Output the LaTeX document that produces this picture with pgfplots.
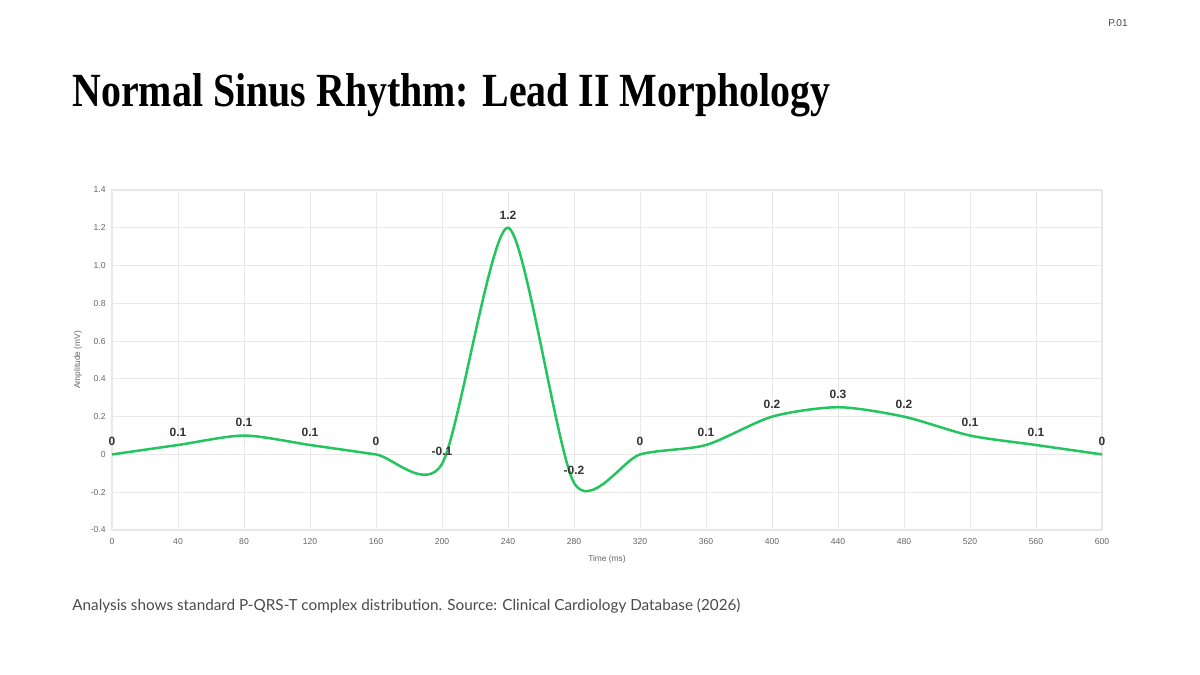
\documentclass[border=0pt]{standalone}
\usepackage{pgfplots}
\pgfplotsset{compat=1.18}
\usepackage{fontspec}
\setmainfont{Liberation Sans}
\newfontfamily\titlefont{Liberation Serif}
\newfontfamily\capfont{Lato}

\definecolor{ecg}{HTML}{22C55E}
\definecolor{gridc}{HTML}{E8E8E8}
\definecolor{tickc}{HTML}{666666}
\definecolor{lblc}{HTML}{333333}
\definecolor{capc}{HTML}{4A4A4A}

% Lead II samples (ms, mV) and the rounded value shown above each point
\pgfplotstableread{
x   y     lab
0   0     0
40  0.05  0.1
80  0.1   0.1
120 0.05  0.1
160 0     0
200 -0.05 -0.1
240 1.2   1.2
280 -0.15 -0.2
320 0     0
360 0.05  0.1
400 0.2   0.2
440 0.25  0.3
480 0.2   0.2
520 0.1   0.1
560 0.05  0.1
600 0     0
}\ecgdata

\begin{document}
\begin{tikzpicture}
  \path[use as bounding box, fill=white] (0,0) rectangle (600pt,337.5pt);

  \node[anchor=base east, inner sep=0pt, text=capc]
    at (564pt,324pt) {\fontsize{5}{6}\selectfont P.01};

  \node[anchor=base west, inner sep=0pt] at (36pt,284pt)
    {\resizebox{379pt}{16.5pt}{\titlefont\bfseries Normal Sinus Rhythm: Lead II Morphology}};

  \node[anchor=base west, inner sep=0pt, text=capc] at (36pt,32pt)
    {\resizebox{334pt}{!}{\capfont\fontsize{7.5}{9}\selectfont Analysis shows standard P-QRS-T complex distribution. Source: Clinical Cardiology Database (2026)}};

  \begin{axis}[
      at={(56pt,72.5pt)}, anchor=south west,
      scale only axis, width=495pt, height=170pt,
      xmin=0, xmax=600, ymin=-0.4, ymax=1.4,
      xtick={0,40,...,600},
      ytick={-0.4,-0.2,0,0.2,0.4,0.6,0.8,1.0,1.2,1.4},
      yticklabels={-0.4,-0.2,0,0.2,0.4,0.6,0.8,1.0,1.2,1.4},
      /pgf/number format/assume math mode=true,
      grid=major,
      major grid style={gridc, line width=0.5pt},
      axis line style={gridc, line width=0.6pt},
      major tick length=0pt,
      tick label style={font=\fontsize{4.3}{5}\selectfont, text=tickc},
      xticklabel style={inner sep=0pt, anchor=north, yshift=-4pt},
      yticklabel style={inner sep=0pt, anchor=east, xshift=-3pt},
      xlabel={Time (ms)}, ylabel={Amplitude (mV)},
      label style={font=\fontsize{4.2}{5}\selectfont, text=tickc},
      x label style={at={(axis description cs:0.5,-0.0853)}, anchor=center},
      y label style={at={(axis description cs:-0.0343,0.5)}, anchor=center},
      clip=false,
    ]
    \addplot[ecg, line width=1.25pt, smooth, tension=0.45, mark=none,
      nodes near coords, point meta=explicit symbolic,
      nodes near coords style={font=\bfseries\fontsize{6}{7}\selectfont,
        text=lblc, anchor=south, inner sep=0pt, yshift=3.6pt}]
      table[x=x, y=y, meta=lab] {\ecgdata};
  \end{axis}
\end{tikzpicture}
\end{document}
